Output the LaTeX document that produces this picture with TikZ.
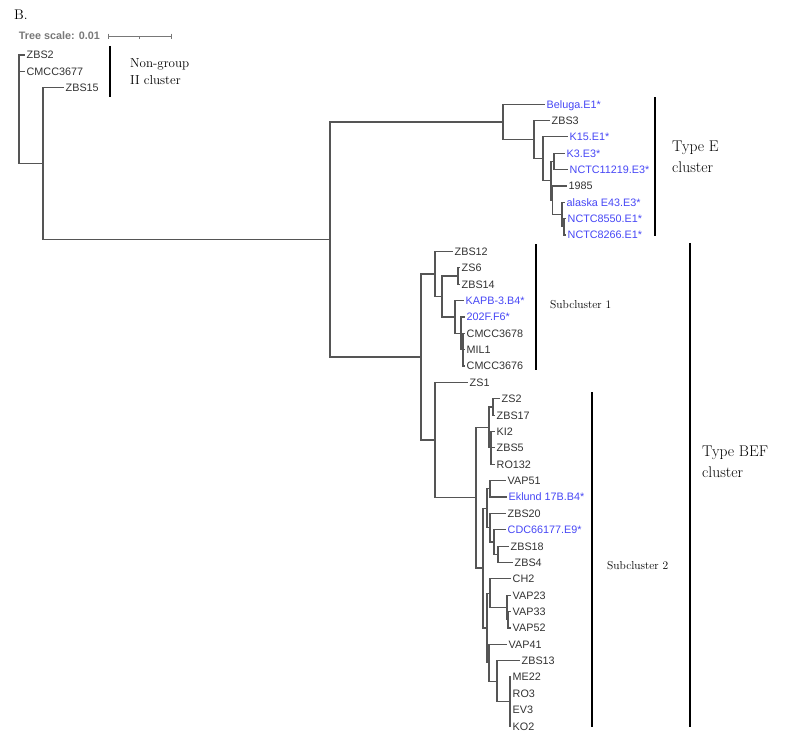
\documentclass[tikz,border=0pt]{standalone}
\usepackage{fontspec}
\newfontfamily\leaffont{Liberation Sans}
\usetikzlibrary{positioning}

\definecolor{leafgray}{RGB}{50,50,50}
\definecolor{typeblue}{RGB}{70,70,245}
\definecolor{branchgray}{RGB}{85,85,85}
\definecolor{scalegray}{RGB}{120,120,120}

\tikzset{
  branch/.style={draw=branchgray, line width=1.15pt},
  leaf/.style={anchor=west, inner sep=1.5pt, text height=7.8pt, text depth=0pt,
    font=\leaffont\fontsize{10.8}{12}\selectfont, text=leafgray},
  typed/.style={leaf, text=typeblue},
  clusterbar/.style={draw=black, line width=2.4pt},
  clusterlabel/.style={anchor=west, align=left, inner sep=0pt},
}

\begin{document}
\begin{tikzpicture}[x=1pt, y=-16.37pt]

  \useasboundingbox (0,-3.36) rectangle (785,42.52);

  % Panel letter and tree scale.
  \node[anchor=west, inner sep=0pt, font=\fontsize{14}{16}\selectfont] (panel) at (14,-2.44) {B.};
  \node[anchor=east, inner sep=0pt, text=scalegray,
    font=\leaffont\bfseries\fontsize{10.8}{12}\selectfont] (scaletext) at (100,-1.16) {Tree scale: 0.01};
  \coordinate (sbl) at (108,-1.16);
  \coordinate (sbr) at (171,-1.16);
  \draw[draw=scalegray, line width=1pt] (sbl) -- (sbr);
  \draw[draw=scalegray, line width=1pt] ([yshift=2.5pt]sbl) -- ([yshift=-2.5pt]sbl);
  \draw[draw=scalegray, line width=1pt] ([yshift=2.5pt]sbr) -- ([yshift=-2.5pt]sbr);
  \draw[draw=scalegray, line width=0.8pt] (139.5,-1.16) -- ([yshift=-2.5pt]139.5,-1.16);

  % Leaves (tip x, row).
  \node[leaf]  (zbs2)      at (25,0)  {ZBS2};
  \node[leaf]  (cmcc3677)  at (25,1)  {CMCC3677};
  \node[leaf]  (zbs15)     at (64,2)  {ZBS15};
  \node[typed] (beluga)    at (545,3) {Beluga.E1*};
  \node[leaf]  (zbs3)      at (550,4) {ZBS3};
  \node[typed] (k15)       at (568,5) {K15.E1*};
  \node[typed] (k3)        at (565,6) {K3.E3*};
  \node[typed] (nctc11219) at (568,7) {NCTC11219.E3*};
  \node[leaf]  (s1985)     at (567,8) {1985};
  \node[typed] (alaska)    at (565,9) {alaska E43.E3*};
  \node[typed] (nctc8550)  at (566,10) {NCTC8550.E1*};
  \node[typed] (nctc8266)  at (566,11) {NCTC8266.E1*};
  \node[leaf]  (zbs12)     at (453,12) {ZBS12};
  \node[leaf]  (zs6)       at (460,13) {ZS6};
  \node[leaf]  (zbs14)     at (460,14) {ZBS14};
  \node[typed] (kapb)      at (464,15) {KAPB-3.B4*};
  \node[typed] (f202)      at (465,16) {202F.F6*};
  \node[leaf]  (cmcc3678)  at (465,17) {CMCC3678};
  \node[leaf]  (mil1)      at (465,18) {MIL1};
  \node[leaf]  (cmcc3676)  at (465,19) {CMCC3676};
  \node[leaf]  (zs1)       at (468,20) {ZS1};
  \node[leaf]  (zs2)       at (500,21) {ZS2};
  \node[leaf]  (zbs17)     at (495,22) {ZBS17};
  \node[leaf]  (ki2)       at (495,23) {KI2};
  \node[leaf]  (zbs5)      at (495,24) {ZBS5};
  \node[leaf]  (ro132)     at (495,25) {RO132};
  \node[leaf]  (vap51)     at (506,26) {VAP51};
  \node[typed] (eklund)    at (507,27) {Eklund 17B.B4*};
  \node[leaf]  (zbs20)     at (506,28) {ZBS20};
  \node[typed] (cdc)       at (506,29) {CDC66177.E9*};
  \node[leaf]  (zbs18)     at (509,30) {ZBS18};
  \node[leaf]  (zbs4)      at (513,31) {ZBS4};
  \node[leaf]  (ch2)       at (511,32) {CH2};
  \node[leaf]  (vap23)     at (511,33) {VAP23};
  \node[leaf]  (vap33)     at (511,34) {VAP33};
  \node[leaf]  (vap52)     at (511,35) {VAP52};
  \node[leaf]  (vap41)     at (507,36) {VAP41};
  \node[leaf]  (zbs13)     at (520,37) {ZBS13};
  \node[leaf]  (me22)      at (511,38) {ME22};
  \node[leaf]  (ro3)       at (511,39) {RO3};
  \node[leaf]  (ev3)       at (511,40) {EV3};
  \node[leaf]  (ko2)       at (511,41) {KO2};

  % Internal nodes (x, row where the parent joins).
  \coordinate (root) at (19,3.32);
  \coordinate (na)   at (43,6.63);
  \coordinate (nb)   at (330,11.27);
  % type E clade
  \coordinate (ne)   at (503,4.09);
  \coordinate (ne2)  at (534,5.17);
  \coordinate (ne3)  at (543,6.34);
  \coordinate (ne4)  at (551,7.69);
  \coordinate (ne5)  at (554,6.5);
  \coordinate (ne7)  at (552.5,8.875);
  \coordinate (ne6)  at (562,9.75);
  \coordinate (ne6b) at (564,10.5);
  % type BEF clade
  \coordinate (nc)   at (421,18.45);
  \coordinate (nd)   at (435,13.375);
  \coordinate (ng)   at (442,14.75);
  \coordinate (nh)   at (458,13.5);
  \coordinate (ni)   at (455,16);
  \coordinate (nj)   at (461,17);
  \coordinate (nk)   at (463,18);
  \coordinate (nf)   at (435,23.52);
  \coordinate (nl)   at (476,27.05);
  \coordinate (nm)   at (489,22.75);
  \coordinate (nm1)  at (493,21.5);
  \coordinate (nm2)  at (491,24);
  \coordinate (nn)   at (483,31.34);
  \coordinate (np)   at (487,27.69);
  \coordinate (np1)  at (490,26.5);
  \coordinate (np2)  at (490,28.875);
  \coordinate (np3)  at (494,29.75);
  \coordinate (np4)  at (498,30.5);
  \coordinate (nq)   at (487,35);
  \coordinate (nq1)  at (490,32.875);
  \coordinate (nq1a) at (507,33.75);
  \coordinate (nq1b) at (508,34.5);
  \coordinate (nq2)  at (489,37.125);
  \coordinate (nq2a) at (497,38.25);
  \coordinate (nq2b) at (510,39.5);

  % Branches.
  \draw[branch] (root) |- (zbs2.west);
  \draw[branch] (root) |- (cmcc3677.west);
  \draw[branch] (root) |- (na);
  \draw[branch] (na) |- (zbs15.west);
  \draw[branch] (na) |- (nb);
  \draw[branch] (nb) |- (ne);
  \draw[branch] (nb) |- (nc);

  \draw[branch] (ne) |- (beluga.west);
  \draw[branch] (ne) |- (ne2);
  \draw[branch] (ne2) |- (zbs3.west);
  \draw[branch] (ne2) |- (ne3);
  \draw[branch] (ne3) |- (k15.west);
  \draw[branch] (ne3) |- (ne4);
  \draw[branch] (ne4) |- (ne5);
  \draw[branch] (ne4) |- (ne7);
  \draw[branch] (ne5) |- (k3.west);
  \draw[branch] (ne5) |- (nctc11219.west);
  \draw[branch] (ne7) |- (s1985.west);
  \draw[branch] (ne7) |- (ne6);
  \draw[branch] (ne6) |- (alaska.west);
  \draw[branch] (ne6) |- (ne6b);
  \draw[branch] (ne6b) |- (nctc8550.west);
  \draw[branch] (ne6b) |- (nctc8266.west);

  \draw[branch] (nc) |- (nd);
  \draw[branch] (nc) |- (nf);
  \draw[branch] (nd) |- (zbs12.west);
  \draw[branch] (nd) |- (ng);
  \draw[branch] (ng) |- (nh);
  \draw[branch] (ng) |- (ni);
  \draw[branch] (nh) |- (zs6.west);
  \draw[branch] (nh) |- (zbs14.west);
  \draw[branch] (ni) |- (kapb.west);
  \draw[branch] (ni) |- (nj);
  \draw[branch] (nj) |- (f202.west);
  \draw[branch] (nj) |- (nk);
  \draw[branch] (nk) |- (cmcc3678.west);
  \draw[branch] (nk) |- (mil1.west);
  \draw[branch] (nk) |- (cmcc3676.west);

  \draw[branch] (nf) |- (zs1.west);
  \draw[branch] (nf) |- (nl);
  \draw[branch] (nl) |- (nm);
  \draw[branch] (nl) |- (nn);
  \draw[branch] (nm) |- (nm1);
  \draw[branch] (nm) |- (nm2);
  \draw[branch] (nm1) |- (zs2.west);
  \draw[branch] (nm1) |- (zbs17.west);
  \draw[branch] (nm2) |- (ki2.west);
  \draw[branch] (nm2) |- (zbs5.west);
  \draw[branch] (nm2) |- (ro132.west);
  \draw[branch] (nn) |- (np);
  \draw[branch] (nn) |- (nq);
  \draw[branch] (np) |- (np1);
  \draw[branch] (np) |- (np2);
  \draw[branch] (np1) |- (vap51.west);
  \draw[branch] (np1) |- (eklund.west);
  \draw[branch] (np2) |- (zbs20.west);
  \draw[branch] (np2) |- (np3);
  \draw[branch] (np3) |- (cdc.west);
  \draw[branch] (np3) |- (np4);
  \draw[branch] (np4) |- (zbs18.west);
  \draw[branch] (np4) |- (zbs4.west);
  \draw[branch] (nq) |- (nq1);
  \draw[branch] (nq) |- (nq2);
  \draw[branch] (nq1) |- (ch2.west);
  \draw[branch] (nq1) |- (nq1a);
  \draw[branch] (nq1a) |- (vap23.west);
  \draw[branch] (nq1a) |- (nq1b);
  \draw[branch] (nq1b) |- (vap33.west);
  \draw[branch] (nq1b) |- (vap52.west);
  \draw[branch] (nq2) |- (vap41.west);
  \draw[branch] (nq2) |- (nq2a);
  \draw[branch] (nq2a) |- (zbs13.west);
  \draw[branch] (nq2a) |- (nq2b);
  \draw[branch] (nq2b) |- (me22.west);
  \draw[branch] (nq2b) |- (ro3.west);
  \draw[branch] (nq2b) |- (ev3.west);
  \draw[branch] (nq2b) |- (ko2.west);

  % Cluster bars and their labels.
  \draw[clusterbar] (110,-0.55) -- (110,2.57);
  \node[clusterlabel, font=\fontsize{13}{17}\selectfont] (nongroup) at (130,1.0)
    {Non-group\\II cluster};
  \draw[clusterbar] (655,2.57) -- (655,11.06);
  \node[clusterlabel, font=\fontsize{15.5}{21}\selectfont] (typee) at (672,6.2)
    {Type E\\cluster};
  \draw[clusterbar] (536,11.55) -- (536,19.24);
  \node[clusterlabel, font=\fontsize{11.5}{14}\selectfont] (sub1) at (550,15.27)
    {Subcluster 1};
  \draw[clusterbar] (592,20.59) -- (592,41.05);
  \node[clusterlabel, font=\fontsize{11.5}{14}\selectfont] (sub2) at (607,31.2)
    {Subcluster 2};
  \draw[clusterbar] (690,11.48) -- (690,41.05);
  \node[clusterlabel, font=\fontsize{15.5}{21}\selectfont] (typebef) at (702,24.86)
    {Type BEF\\cluster};

\end{tikzpicture}
\end{document}
